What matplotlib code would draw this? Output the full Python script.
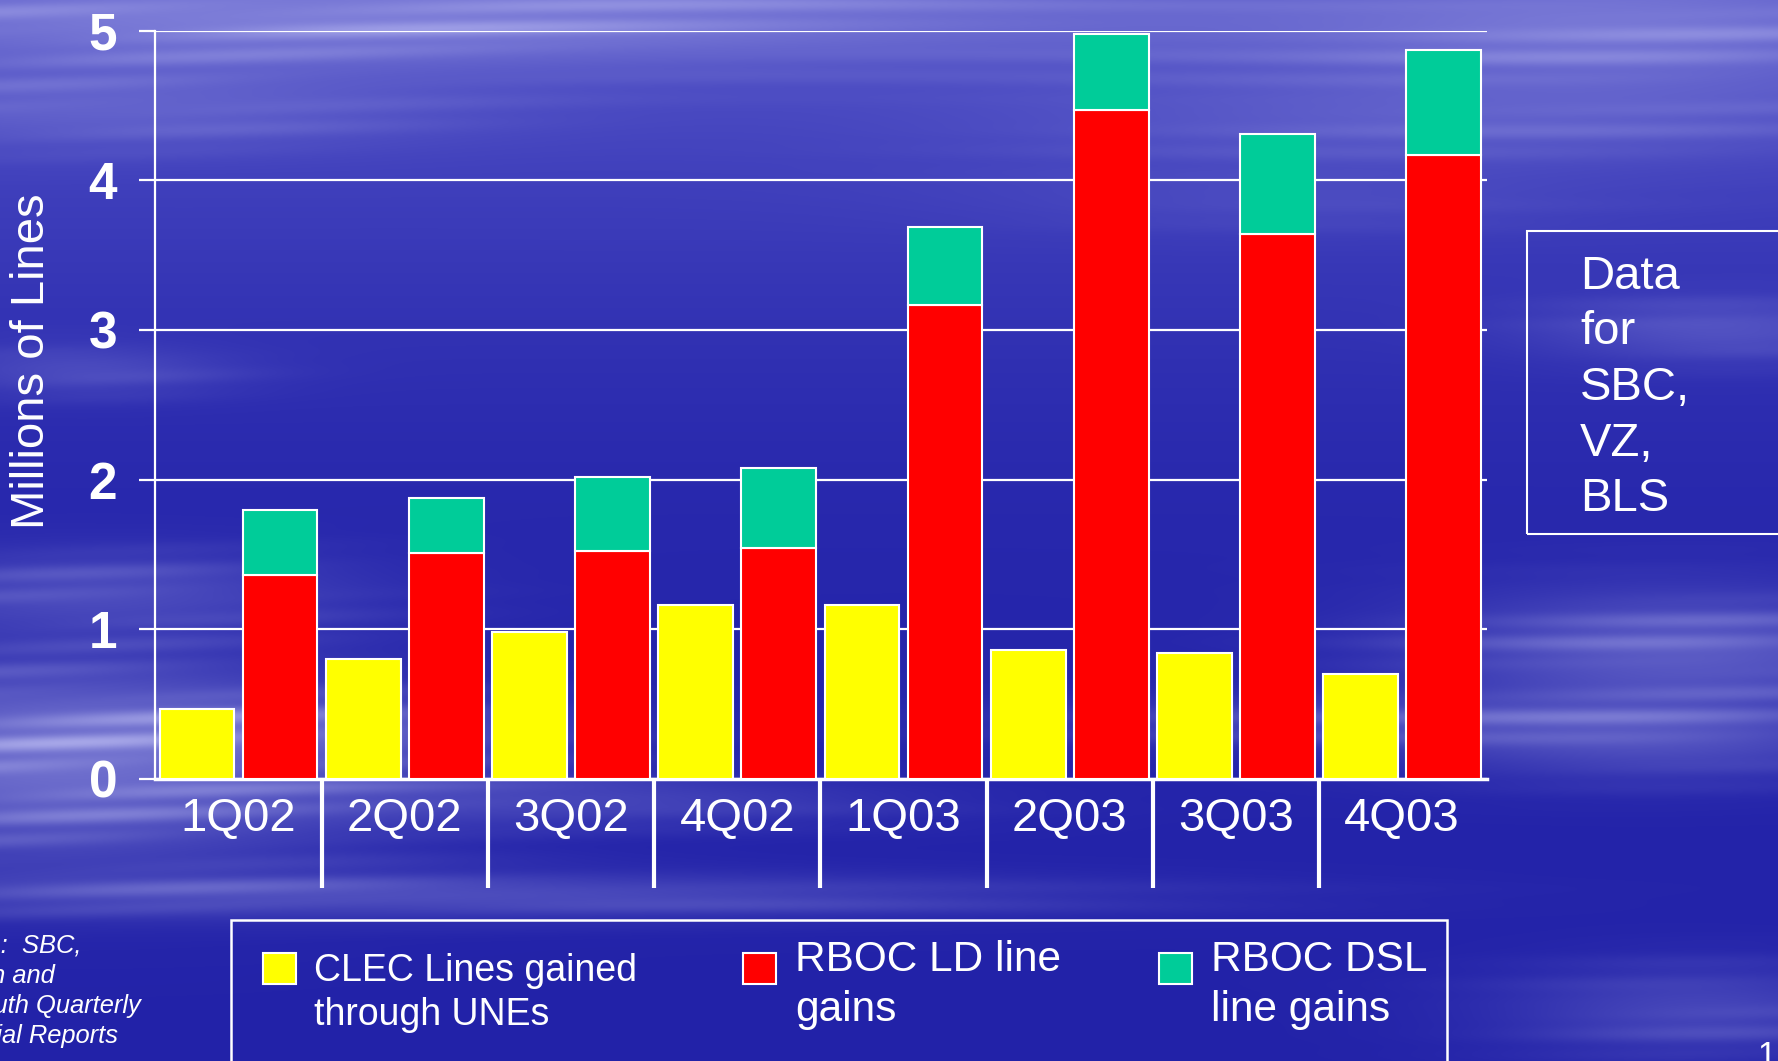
import numpy as np
import matplotlib
matplotlib.use("Agg")
import matplotlib.pyplot as plt
from matplotlib.patches import Rectangle

plt.rcParams['font.family'] = ['Liberation Sans', 'DejaVu Sans']

# data (millions of lines)
quarters = ['1Q02', '2Q02', '3Q02', '4Q02', '1Q03', '2Q03', '3Q03', '4Q03']
clec_une = [0.47, 0.80, 0.98, 1.16, 1.16, 0.86, 0.84, 0.70]
rboc_ld = [1.36, 1.51, 1.52, 1.54, 3.17, 4.47, 3.64, 4.17]
rboc_dsl = [0.44, 0.37, 0.50, 0.54, 0.52, 0.51, 0.67, 0.70]

series_labels = ['CLEC Lines gained\nthrough UNEs', 'RBOC LD line\ngains', 'RBOC DSL\nline gains']
series_colors = ['#ffff00', '#ff0000', '#00cc99']

W, H = 1778, 1061
fig = plt.figure(figsize=(W / 100, H / 100), dpi=100)

# --- cloudy blue backdrop ---
yy, xx = np.mgrid[0:H, 0:W].astype(float)
top_glow = np.exp(-(yy / 330.0) ** 2)
base = np.zeros((H, W, 3))
base[..., 0] = 0.155 + 0.13 * top_glow - 0.02 * (yy / H)
base[..., 1] = 0.155 + 0.13 * top_glow - 0.02 * (yy / H)
base[..., 2] = 0.68 + 0.08 * top_glow - 0.02 * (yy / H)
blobs = [  # cx, cy, sx, sy, strength
    (200, 15, 600, 55, 0.55), (900, 20, 700, 45, 0.35), (1650, 25, 350, 70, 0.5),
    (100, 110, 350, 40, 0.35), (1450, 120, 450, 45, 0.3), (1300, 200, 300, 30, 0.15),
    (80, 370, 150, 25, 0.3), (100, 590, 250, 40, 0.35),
    (60, 760, 320, 100, 0.75), (350, 730, 250, 30, 0.35), (450, 895, 600, 22, 0.4),
    (1680, 650, 260, 60, 0.55), (1650, 740, 250, 40, 0.4), (1720, 330, 180, 30, 0.35),
    (1300, 720, 300, 25, 0.3), (1700, 1010, 200, 45, 0.35), (600, 800, 300, 25, 0.3),
]
light = np.zeros((H, W))
for cx, cy, sx, sy, s in blobs:
    light += s * np.exp(-((xx - cx) / sx) ** 2 - ((yy - cy) / sy) ** 2)
wisp = (0.5 * np.sin(yy / 6.0 + xx / 260.0 + 1.5 * np.sin(xx / 370.0))
        + 0.5 * np.sin(yy / 11.0 - xx / 410.0))
streak = 0.6 + 0.4 * wisp ** 2
light = np.clip(light * streak, 0, 0.9)
tint = np.array([0.78, 0.78, 0.97])
img = base * (1 - light[..., None]) + tint * light[..., None]

bg = fig.add_axes([0, 0, 1, 1])
bg.imshow(img, aspect='auto', interpolation='bilinear')
bg.axis('off')
bg.set_zorder(-10)

# --- main axes ---
ax = fig.add_axes([155.4 / W, 1 - 779 / H, (1487 - 155.4) / W, (779 - 30.6) / H])
ax.patch.set_alpha(0)
x = np.arange(len(quarters))
ax.bar(x - 0.25, clec_une, 0.45, color=series_colors[0], edgecolor='white', linewidth=1.5, zorder=3)
ax.bar(x + 0.25, rboc_ld, 0.45, color=series_colors[1], edgecolor='white', linewidth=1.5, zorder=3)
ax.bar(x + 0.25, rboc_dsl, 0.45, bottom=rboc_ld, color=series_colors[2], edgecolor='white',
       linewidth=1.5, zorder=3)

ax.set_xlim(-0.5, len(quarters) - 0.49)
ax.set_ylim(0, 5)
ax.set_yticks(range(6))
ax.yaxis.grid(True, color='white', linewidth=1.6)
ax.set_axisbelow(True)
for side in ['top', 'right']:
    ax.spines[side].set_visible(False)
ax.spines['left'].set_color('white')
ax.spines['left'].set_linewidth(1.6)
ax.spines['bottom'].set_color('white')
ax.spines['bottom'].set_linewidth(2.5)
ax.tick_params(axis='y', direction='out', length=11.5, width=1.6, color='white', pad=16,
               labelcolor='white')
for lab in ax.get_yticklabels():
    lab.set_fontfamily(['Liberation Sans Narrow', 'Liberation Sans'])
    lab.set_fontweight('bold')
    lab.set_fontsize(37)

ax.set_xticks(x)
ax.set_xticklabels(quarters, fontsize=34, color='white')
ax.tick_params(axis='x', length=0, pad=13)

# group separators below the axis
ax.vlines(x[:-1] + 0.5, -0.145, 0, transform=ax.get_xaxis_transform(), colors='white',
          linewidth=3, clip_on=False)

fig.text(32 / W, 1 - 361 / H, 'Millions of Lines', rotation=90, ha='center', va='center',
         fontsize=34, color='white')

# legend box
fig.patches.append(Rectangle((231 / W, -0.01), (1447 - 231) / W, 1 - 920 / H + 0.01,
                             transform=fig.transFigure, facecolor='none', edgecolor='white',
                             linewidth=1.8))
sq_x = [263, 743, 1159]
txt_x = [314, 795, 1211]
txt_y = [993, 985, 985]
txt_size = [27, 30.5, 30.5]
txt_gap = [1.3, 1.3, 1.3]
for i in range(3):
    fig.patches.append(Rectangle((sq_x[i] / W, 1 - 984 / H), 33 / W, 31 / H,
                                 transform=fig.transFigure, facecolor=series_colors[i],
                                 edgecolor='white', linewidth=1.5))
    fig.text(txt_x[i] / W, 1 - txt_y[i] / H, series_labels[i], ha='left', va='center',
             fontsize=txt_size[i], color='white', linespacing=txt_gap[i])

# side note box
fig.patches.append(Rectangle((1527 / W, 1 - 534 / H), 0.2, (534 - 231) / H,
                             transform=fig.transFigure, facecolor='none', edgecolor='white',
                             linewidth=1.5))
fig.text(1580 / W, 1 - 388 / H, 'Data\nfor\nSBC,\nVZ,\nBLS', ha='left', va='center',
         fontsize=34, color='white', linespacing=1.34)

# source note (partly off the slide)
fig.text(-80 / W, 1 - 991 / H, 'Source:  SBC,\nVerizon and\nBellSouth Quarterly\nFinancial Reports',
         ha='left', va='center', fontsize=18.4, style='italic', color='white', linespacing=1.33)

# page number, cut off at the bottom
fig.text(1758 / W, 1 - 1041 / H, '1', ha='left', va='top', fontsize=24, color='white')

fig.savefig('out.png', dpi=100)
